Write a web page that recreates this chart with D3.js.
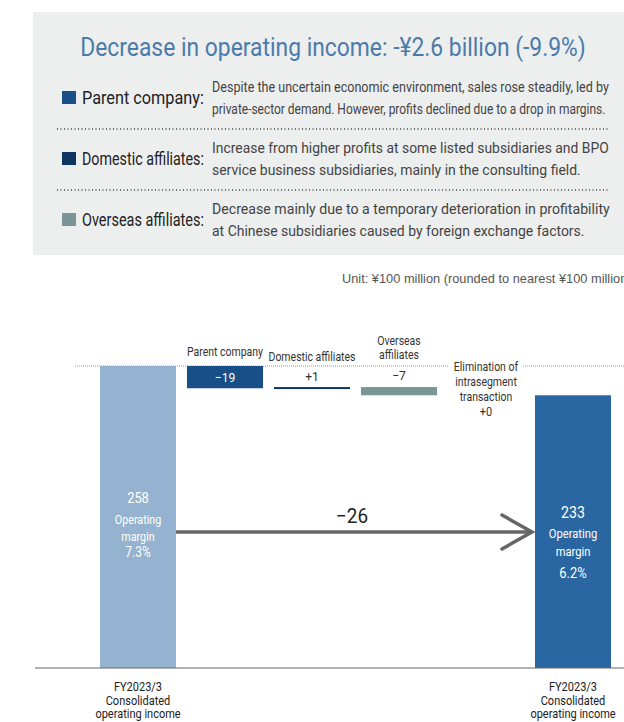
<!DOCTYPE html>
<html>
<head>
<meta charset="utf-8">
<script src="https://cdn.jsdelivr.net/npm/d3@7"></script>
<style>
  body { margin: 0; background: #fff; }
  svg { display: block; }
  text { font-family: "Roboto", "Liberation Sans", sans-serif; }
</style>
</head>
<body>
<div id="chart"></div>
<script>
var categories = ['start', 'Parent company', 'Domestic affiliates', 'Overseas affiliates', 'Elimination', 'end'];
var startValue = 258;
var deltas = [-19, 1, -7, 0];
var endValue = 233;
var deltaLabels = ['\u221219', '+1', '\u22127', '+0'];
var totalLabels = ['258', '233'];
var marginLabels = ['7.3%', '6.2%'];
var changeLabel = '\u221226';
var axisLabels = [['FY2023/3', 'Consolidated', 'operating income'], ['FY2023/3', 'Consolidated', 'operating income']];
var segLabels = [['Parent company'], ['Domestic affiliates'], ['Overseas', 'affiliates'], ['Elimination of', 'intrasegment', 'transaction', '+0']];
var legendNames = ['Parent company:', 'Domestic affiliates:', 'Overseas affiliates:'];
var legendText = [
  ['Despite the uncertain economic environment, sales rose steadily, led by', 'private-sector demand. However, profits declined due to a drop in margins.'],
  ['Increase from higher profits at some listed subsidiaries and BPO', 'service business subsidiaries, mainly in the consulting field.'],
  ['Decrease mainly due to a temporary deterioration in profitability', 'at Chinese subsidiaries caused by foreign exchange factors.']
];
var colors = ['#95b3d0', '#184f86', '#0e355f', '#7a9595', '#ffffff', '#2a66a2'];

var width = 624, height = 722;

var svg = d3.select('#chart').append('svg')
    .attr('width', width)
    .attr('height', height);

// text squeezed horizontally to mimic the condensed typeface
// opt.w = target width, opt.f = squeeze factor
function label(parent, px, py, str, size, fill, anchor, opt) {
    var t = parent.append('text')
        .attr('x', 0).attr('y', 0)
        .attr('font-size', size + 'px')
        .attr('fill', fill)
        .attr('text-anchor', anchor || 'start')
        .text(str);
    var len = t.node().getComputedTextLength();
    var f = opt && opt.w ? opt.w / len : (opt && opt.f ? opt.f : 1);
    t.attr('transform', 'translate(' + px + ',' + py + ') scale(' + f + ',1)');
    return t;
}

// ---- header panel
svg.append('rect')
    .attr('x', 33).attr('y', 12)
    .attr('width', 600).attr('height', 243)
    .attr('fill', '#edeeee');

label(svg, 333, 56, 'Decrease in operating income: -\u00a52.6 billion (-9.9%)', 25, '#4b7bab', 'middle', {w: 506});

var rowY = [97, 158, 219];
var descWidths = [[397, 394], [397, 369], [398, 373]];
legendNames.forEach(function(name, i) {
    var y = rowY[i];
    svg.append('rect')
        .attr('x', 62).attr('y', y - 6)
        .attr('width', 14).attr('height', 13)
        .attr('fill', colors[i + 1]);
    label(svg, 82, y + 7, name, 17.5, '#222', 'start', {w: 122});
    legendText[i].forEach(function(line, j) {
        label(svg, 212, y - 5 + j * 22, line, 15.5, '#444', 'start', {w: descWidths[i][j]});
    });
    if (i < 2) {
        svg.append('line')
            .attr('x1', 57).attr('x2', 610)
            .attr('y1', y + 32).attr('y2', y + 32)
            .attr('stroke', '#444')
            .attr('stroke-width', 1.3)
            .attr('stroke-dasharray', '1,2.5');
    }
});

svg.append('text')
    .attr('x', 342).attr('y', 283)
    .style('font-family', '"Liberation Sans", sans-serif')
    .attr('font-size', '12.8px')
    .attr('fill', '#555')
    .text('Unit: \u00a5100 million (rounded to nearest \u00a5100 million)');

// ---- waterfall
var x = d3.scaleBand()
    .domain(categories)
    .range([94.5, 616.5])
    .paddingInner(0.126)
    .paddingOuter(0.063);

var y = d3.scaleLinear()
    .domain([0, startValue])
    .range([668, 366]);

var steps = [];
var run = startValue;
steps.push({key: categories[0], y0: 0, y1: startValue});
deltas.forEach(function(d, i) {
    steps.push({key: categories[i + 1], y0: run, y1: run + d, delta: d});
    run += d;
});
steps.push({key: categories[5], y0: 0, y1: endValue});

// reference line at starting level
svg.append('line')
    .attr('x1', 75).attr('x2', width)
    .attr('y1', y(startValue)).attr('y2', y(startValue))
    .attr('stroke', '#999')
    .attr('stroke-width', 1)
    .attr('stroke-dasharray', '1,1');

svg.selectAll('.bar')
    .data(steps)
    .enter().append('rect')
    .attr('class', 'bar')
    .attr('x', function(d) { return x(d.key); })
    .attr('width', x.bandwidth())
    .attr('y', function(d) { return y(Math.max(d.y0, d.y1)); })
    .attr('height', function(d, i) {
        var h = Math.abs(y(d.y0) - y(d.y1));
        if (i === 2) return Math.max(h, 2);
        return h;
    })
    .attr('fill', function(d, i) { return colors[i]; });

// segment labels above bars
var cf = {f: 0.84};
function cx(k) { return x(k) + x.bandwidth() / 2; }

label(svg, cx(categories[1]), 356, segLabels[0][0], 12.5, '#333', 'middle', cf);
label(svg, cx(categories[2]), 361, segLabels[1][0], 12.5, '#333', 'middle', cf);
segLabels[2].forEach(function(t, j) {
    label(svg, cx(categories[3]), 345 + j * 14, t, 12.5, '#333', 'middle', cf);
});
// elimination label with gap in the dotted line
svg.append('rect')
    .attr('x', cx(categories[4]) - 37).attr('y', 358)
    .attr('width', 74).attr('height', 14)
    .attr('fill', '#fff');
segLabels[3].forEach(function(t, j) {
    label(svg, cx(categories[4]), 371 + j * 15, t, j === 3 ? 13 : 12.5, '#333', 'middle', cf);
});

// delta values
label(svg, cx(categories[1]), y(startValue) + 16, deltaLabels[0], 13.5, '#fff', 'middle', {f: 0.9});
label(svg, cx(categories[2]), y(steps[2].y1) - 6, deltaLabels[1], 13.5, '#333', 'middle', {f: 0.9});
label(svg, cx(categories[3]), y(steps[3].y0) - 7, deltaLabels[2], 13.5, '#333', 'middle', {f: 0.9});

// totals inside bars
var inner = [
    {k: categories[0], ys: [503, 524, 541, 557], fs: [15, 12.5, 12.5, 14]},
    {k: categories[5], ys: [518, 538, 556, 578], fs: [16.5, 13, 13, 15]}
];
inner.forEach(function(t, i) {
    var lines = [totalLabels[i], 'Operating', 'margin', marginLabels[i]];
    lines.forEach(function(s, j) {
        label(svg, cx(t.k), t.ys[j], s, t.fs[j], '#fff', 'middle', {f: 0.86});
    });
});

// change arrow
var arrowY = 532;
var ax0 = x(categories[0]) + x.bandwidth();
var ax1 = x(categories[5]) - 3;
svg.append('line')
    .attr('x1', ax0).attr('x2', ax1)
    .attr('y1', arrowY).attr('y2', arrowY)
    .attr('stroke', '#666').attr('stroke-width', 3.5);
svg.append('path')
    .attr('d', 'M' + (ax1 - 30) + ',' + (arrowY - 17) + 'L' + ax1 + ',' + arrowY + 'L' + (ax1 - 30) + ',' + (arrowY + 17))
    .attr('fill', 'none')
    .attr('stroke', '#666').attr('stroke-width', 3.5)
    .attr('stroke-linecap', 'round');
label(svg, 352, arrowY - 9, changeLabel, 21, '#222', 'middle', {f: 0.9});

// baseline axis
svg.append('line')
    .attr('x1', 35).attr('x2', width)
    .attr('y1', y(0)).attr('y2', y(0))
    .attr('stroke', '#666').attr('stroke-width', 1);

[categories[0], categories[5]].forEach(function(k, i) {
    axisLabels[i].forEach(function(t, j) {
        label(svg, cx(k), 691 + j * 13.5, t, 12.5, '#222', 'middle', {f: 0.88});
    });
});
</script>
</body>
</html>
